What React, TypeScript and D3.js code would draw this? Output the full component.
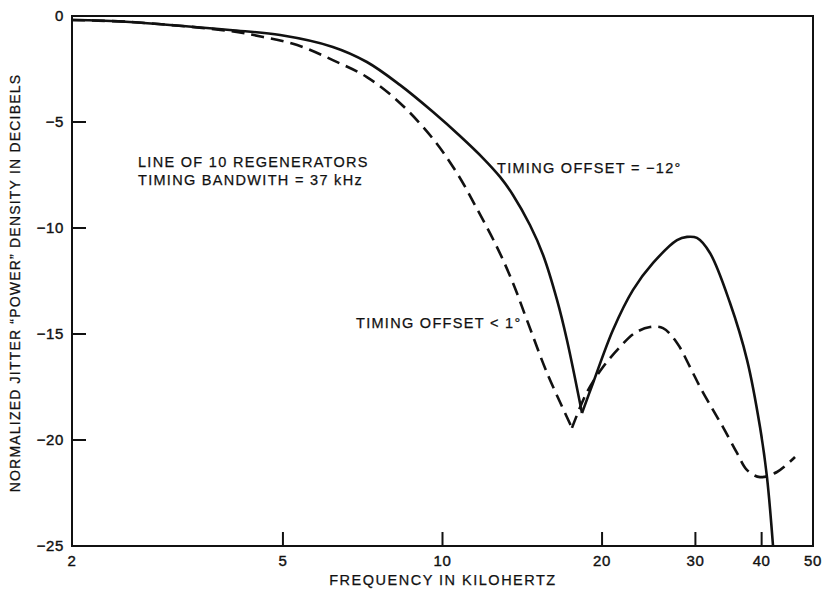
import React from "react";
import * as d3 from "d3";

// Frequency (kHz) / normalized jitter power density (dB)
const freqSolid = [2.0, 2.57, 3.97, 4.94, 6.21, 7.2, 8.31, 9.6, 10.79, 11.92, 12.84, 13.58, 14.62, 15.48, 16.45, 17.17, 18.33, 19.23, 20.97, 22.88, 24.96, 27.7, 28.93, 30.2, 31.96, 34.87, 37.55, 39.72, 40.94, 42.03];
const dbSolid = [-0.19, -0.28, -0.66, -0.9, -1.46, -2.17, -3.25, -4.53, -5.66, -6.7, -7.59, -8.44, -9.86, -11.27, -13.4, -15.28, -18.73, -17.31, -14.81, -12.92, -11.65, -10.57, -10.42, -10.47, -11.18, -13.54, -16.23, -19.39, -21.75, -25.0];

const freqDashed = [2.0, 2.57, 3.97, 4.59, 5.32, 6.21, 7.2, 8.31, 9.6, 10.65, 11.62, 12.67, 13.58, 14.43, 15.75, 17.55, 18.73, 20.08, 21.62, 23.08, 24.64, 26.06, 27.7, 29.31, 30.61, 32.38, 33.82, 35.94, 37.55, 39.72, 42.76, 46.24];
const dbDashed = [-0.19, -0.28, -0.71, -0.99, -1.37, -2.08, -2.88, -4.1, -5.8, -7.41, -9.1, -10.9, -12.59, -14.34, -16.84, -19.43, -17.74, -16.56, -15.61, -14.95, -14.67, -14.72, -15.42, -16.56, -17.5, -18.58, -19.39, -20.61, -21.42, -21.75, -21.51, -20.8];

const xTicks = [2, 5, 10, 20, 30, 40, 50];
const yTicks = [0, -5, -10, -15, -20, -25];

const W = 825;
const H = 595;
const M = { left: 72, right: 813, top: 16, bottom: 546 };
const FONT = "'Liberation Sans', Arial, Helvetica, sans-serif";

type Pt = [number, number];

function splitAtNotch(fr: number[], db: number[]): Pt[][] {
  const pts: Pt[] = fr.map((f, i) => [f, db[i]]);
  let idx = 0;
  let min = Infinity;
  pts.forEach((p, i) => {
    if (p[0] < 22 && p[1] < min) {
      min = p[1];
      idx = i;
    }
  });
  return [pts.slice(0, idx + 1), pts.slice(idx)];
}

export default function App() {
  const x = d3.scaleLog().domain([2, 50]).range([M.left, M.right]);
  const y = d3.scaleLinear().domain([-25, 0]).range([M.bottom, M.top]);
  const line = d3
    .line<Pt>()
    .x((d) => x(d[0]))
    .y((d) => y(d[1]))
    .curve(d3.curveCatmullRom.alpha(0.5));

  const solidSegs = splitAtNotch(freqSolid, dbSolid);
  const dashedSegs = splitAtNotch(freqDashed, dbDashed);
  const fmtY = d3.format("d");

  return (
    <svg
      width={W}
      height={H}
      viewBox={`0 0 ${W} ${H}`}
      style={{ position: "absolute", left: 0, top: 0, background: "#fff" }}
    >
      <rect x={0} y={0} width={W} height={H} fill="#fff" />
      <defs>
        <clipPath id="plotclip">
          <rect x={M.left} y={M.top} width={M.right - M.left} height={M.bottom - M.top + 1} />
        </clipPath>
      </defs>

      {/* frame */}
      <rect
        x={M.left}
        y={M.top}
        width={M.right - M.left}
        height={M.bottom - M.top}
        fill="none"
        stroke="#111"
        strokeWidth={2}
      />

      {/* y ticks */}
      {yTicks.map((t) => (
        <g key={"y" + t}>
          <line x1={M.left} x2={M.left + 14} y1={y(t)} y2={y(t)} stroke="#111" strokeWidth={2} />
          <text
            x={M.left - 8}
            y={y(t)}
            dy="0.36em"
            textAnchor="end"
            fontFamily={FONT}
            fontSize={15}
            letterSpacing={0.6}
            fill="#111"
            stroke="#111"
            strokeWidth={0.4}
          >
            {fmtY(t)}
          </text>
        </g>
      ))}

      {/* x ticks */}
      {xTicks.map((t) => (
        <g key={"x" + t}>
          <line x1={x(t)} x2={x(t)} y1={M.bottom} y2={M.bottom - 14} stroke="#111" strokeWidth={2} />
          <text
            x={x(t)}
            y={566}
            textAnchor="middle"
            fontFamily={FONT}
            fontSize={15}
            letterSpacing={0.6}
            fill="#111"
            stroke="#111"
            strokeWidth={0.4}
          >
            {t}
          </text>
        </g>
      ))}

      {/* curves */}
      <g clipPath="url(#plotclip)" fill="none" stroke="#111" strokeLinejoin="round">
        {dashedSegs.map((seg, i) => (
          <path key={"d" + i} d={line(seg) || ""} strokeWidth={2.6} strokeDasharray="13,7" />
        ))}
        {solidSegs.map((seg, i) => (
          <path key={"s" + i} d={line(seg) || ""} strokeWidth={2.6} />
        ))}
      </g>

      {/* annotations */}
      <g fontFamily={FONT} fontSize={14.5} letterSpacing={1.3} fill="#111" stroke="#111" strokeWidth={0.25}>
        <text x={138} y={167}>LINE OF 10 REGENERATORS</text>
        <text x={138} y={185}>TIMING BANDWITH = 37 kHz</text>
        <text x={497} y={173}>TIMING OFFSET = −12°</text>
        <text x={356} y={328}>TIMING OFFSET &lt; 1°</text>
      </g>

      {/* axis titles */}
      <text
        x={443}
        y={585}
        textAnchor="middle"
        fontFamily={FONT}
        fontSize={14.5}
        letterSpacing={1.5}
        fill="#111"
        stroke="#111"
        strokeWidth={0.25}
      >
        FREQUENCY IN KILOHERTZ
      </text>
      <text
        transform={`translate(20, ${(M.top + M.bottom) / 2 + 2}) rotate(-90)`}
        textAnchor="middle"
        fontFamily={FONT}
        fontSize={14}
        letterSpacing={1.2}
        fill="#111"
        stroke="#111"
        strokeWidth={0.25}
      >
        NORMALIZED JITTER “POWER” DENSITY IN DECIBELS
      </text>
    </svg>
  );
}
